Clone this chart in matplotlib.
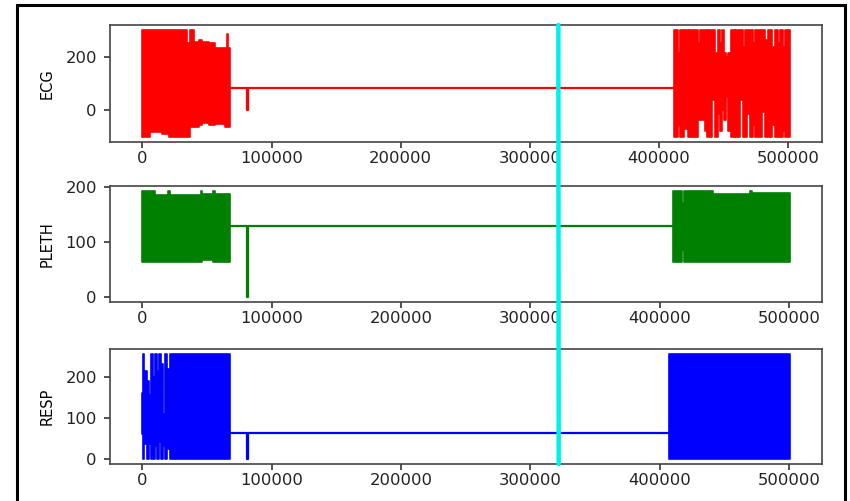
import matplotlib
matplotlib.use('Agg')
import matplotlib.pyplot as plt
from matplotlib.patches import ConnectionPatch, Rectangle

# --- ECG ---
ecg_a_x = [0, 6200, 15200, 20400, 34500, 37100, 39700, 41000, 43600, 46100, 51300, 56400, 64200, 65500, 66500]
ecg_a_hi = [303, 303, 303, 303, 254, 303, 256, 258, 265, 260, 254, 236, 236, 290, 236]
ecg_a_lo = [-103, -85, -92, -103, -103, -67, -45, -67, -60, -50, -60, -55, -67, -67, -67]
ecg_a_end = 67500

ecg_b_x = [411700, 414800, 416300, 418700, 419400, 422000, 423000, 430300, 431600, 435400,
           436700, 438000, 440600, 443200, 445200, 447000, 448300, 450400, 451700, 453500,
           455500, 457300, 458600, 459900, 462500, 465100, 466400, 467700, 470200, 472800,
           474100, 475400, 479300, 481800, 484400, 487000, 489600, 492100, 493400, 494700,
           496000, 497300]
ecg_b_hi = [303, 215, 303, 266, 303, 228, 303, 254, 303, 303,
            240, 303, 303, 215, 303, 254, 303, 215, 202, 215,
            303, 303, 254, 303, 303, 240, 303, 303, 303, 254,
            303, 303, 303, 266, 303, 240, 303, 254, 303, 303,
            240, 303]
ecg_b_lo = [-103, -60, -103, -103, -75, -103, -103, -41, -41, -80,
            -103, -103, 36, -103, -15, -80, -3, -41, 49, -80,
            -103, -103, 10, -103, 36, -103, -103, -15, -103, -60,
            -103, -103, -10, -103, -103, -60, -103, -103, 61, -103,
            -80, -103]
ecg_b_end = 501000

ecg_flat = 81
ecg_dip = -3

# --- PLETH ---
pleth_a_x = [0, 8000, 9500, 20000, 21500, 45000, 46500, 55000, 56500]
pleth_a_hi = [192, 192, 186, 192, 186, 192, 187, 192, 187]
pleth_a_lo = [63, 63, 63, 63, 63, 63, 66, 63, 63]
pleth_a_end = 67500

pleth_b_x = [410500, 417400, 419200, 440000, 441500, 470000, 471500]
pleth_b_hi = [192, 171, 192, 192, 187, 192, 188]
pleth_b_lo = [63, 86, 63, 63, 63, 63, 63]
pleth_b_end = 500600

pleth_flat = 128
pleth_dip = 0

# --- RESP ---
resp_a_x = [0, 600, 1500, 3500, 5000, 6500, 8600, 9800, 11600, 13000, 14200, 16200, 17600, 19000, 21500]
resp_a_hi = [160, 255, 215, 190, 155, 255, 200, 255, 215, 255, 230, 110, 255, 220, 255]
resp_a_lo = [60, 0, 35, 0, 35, 0, 0, 30, 0, 40, 0, 30, 0, 25, 0]
resp_a_end = 67500

resp_b_x = [407000]
resp_b_hi = [255]
resp_b_lo = [0]
resp_b_end = 500600

resp_flat = 63
resp_dip = 0

flat_start = 67500
dip_x = 81200
marker_x = 322000

channels = [
    ('ECG', 'red', [(ecg_a_x, ecg_a_end, ecg_a_hi, ecg_a_lo), (ecg_b_x, ecg_b_end, ecg_b_hi, ecg_b_lo)],
     ecg_flat, ecg_dip, [0, 200]),
    ('PLETH', 'green', [(pleth_a_x, pleth_a_end, pleth_a_hi, pleth_a_lo), (pleth_b_x, pleth_b_end, pleth_b_hi, pleth_b_lo)],
     pleth_flat, pleth_dip, [0, 100, 200]),
    ('RESP', 'blue', [(resp_a_x, resp_a_end, resp_a_hi, resp_a_lo), (resp_b_x, resp_b_end, resp_b_hi, resp_b_lo)],
     resp_flat, resp_dip, [0, 100, 200]),
]

plt.rcParams['font.family'] = 'DejaVu Sans'
fig = plt.figure(figsize=(8.5, 5.01), dpi=100)

boxes = [(0.1294, 0.7166, 0.8376, 0.2335),
         (0.1294, 0.3972, 0.8376, 0.2315),
         (0.1294, 0.0739, 0.8376, 0.2295)]

axes = []
for (name, color, blocks, flat, dip, yt), box in zip(channels, boxes):
    ax = fig.add_axes(box)
    # flat stretch between the two recordings, with the single-sample drop
    second_start = blocks[1][0][0]
    ax.plot([flat_start, dip_x, dip_x, dip_x + 400, dip_x + 400, second_start],
            [flat, flat, dip, dip, flat, flat], color=color, lw=1.6)
    for xs, end, hi, lo in blocks:
        ax.fill_between(xs + [end], hi + [hi[-1]], lo + [lo[-1]], step='post',
                        color=color, lw=1.2)
    ax.set_yticks(yt)
    ax.set_xticks([0, 100000, 200000, 300000, 400000, 500000])
    ax.set_ylabel(name, fontsize=10.5, labelpad=8)
    ax.tick_params(axis='x', labelsize=11.8, length=4, width=1.1, pad=2.5, colors='#222222')
    ax.tick_params(axis='y', labelsize=11.8, length=4.5, width=1.1, pad=5, colors='#222222')
    for sp in ax.spines.values():
        sp.set_color('#444444')
        sp.set_linewidth(1.2)
    axes.append(ax)

# vertical cursor across all three panels
con = ConnectionPatch(xyA=(marker_x, 1), coordsA=axes[0].get_xaxis_transform(),
                      xyB=(marker_x, 0), coordsB=axes[2].get_xaxis_transform(),
                      color='#00f0f0', lw=3.2, zorder=10)
fig.add_artist(con)

# frame around the whole figure
frame = Rectangle((17 / 850, -0.05), (845 - 17) / 850, 1.05 - 5.5 / 501,
                  transform=fig.transFigure, fill=False, edgecolor='black', lw=2.2)
fig.add_artist(frame)

fig.savefig('out.png', dpi=100)
